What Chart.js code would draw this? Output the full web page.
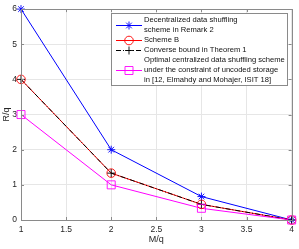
<!DOCTYPE html>
<html><head><meta charset="utf-8">
<script src="https://cdn.jsdelivr.net/npm/chart.js@4/dist/chart.umd.min.js"></script>
<style>html,body{margin:0;padding:0;background:#fff;overflow:hidden}</style>
</head><body>
<canvas id="c" width="299" height="249"></canvas>
<script>
const memoryRatio = [1, 2, 3, 4];
const decentralizedRemark2 = [6, 2, 0.6667, 0];
const schemeB = [4, 1.3333, 0.4444, 0];
const converseBound = [4, 1.3333, 0.4444, 0];
const centralizedUncoded = [3, 1, 0.3333, 0];
const xTicks = [1, 1.5, 2, 2.5, 3, 3.5, 4];
const yTicks = [0, 1, 2, 3, 4, 5, 6];
const xTitle = 'M/q';
const yTitle = 'R/q';
const legendLabels = [
  ['Decentralized data shuffling', 'scheme in Remark 2'],
  ['Scheme B'],
  ['Converse bound in Theorem 1'],
  ['Optimal centralized data shuffling scheme', 'under the constraint of uncoded storage', 'in [12, Elmahdy and Mohajer, ISIT 18]']
];

const FONT = 'Liberation Sans, Arial, Helvetica, sans-serif';
const AXIS = '#8a8a8a';
const TXT = '#262626';

const styles = [
  {color: '#0000ff', marker: 'star', r: 4, dash: []},
  {color: '#ff0000', marker: 'circle', r: 4.3, dash: []},
  {color: '#000000', marker: 'plus', r: 4, dash: [5, 2, 1, 2]},
  {color: '#ff00ff', marker: 'square', r: 4, dash: []}
];
const series = [decentralizedRemark2, schemeB, converseBound, centralizedUncoded];

function drawMarker(ctx, type, x, y, r, color) {
  ctx.save();
  ctx.strokeStyle = color; ctx.lineWidth = 0.9; ctx.setLineDash([]);
  ctx.beginPath();
  if (type === 'star') {
    ctx.moveTo(x - r, y); ctx.lineTo(x + r, y);
    ctx.moveTo(x, y - r); ctx.lineTo(x, y + r);
    const d = r * 0.7071;
    ctx.moveTo(x - d, y - d); ctx.lineTo(x + d, y + d);
    ctx.moveTo(x - d, y + d); ctx.lineTo(x + d, y - d);
  } else if (type === 'plus') {
    ctx.moveTo(x - r, y); ctx.lineTo(x + r, y);
    ctx.moveTo(x, y - r); ctx.lineTo(x, y + r);
  } else if (type === 'circle') {
    ctx.arc(x, y, r, 0, Math.PI * 2);
  } else if (type === 'square') {
    ctx.rect(x - r, y - r, 2 * r, 2 * r);
  }
  ctx.stroke();
  ctx.restore();
}

const markerPlugin = {
  id: 'markers',
  afterDatasetsDraw(chart) {
    const ctx = chart.ctx;
    chart.data.datasets.forEach((ds, i) => {
      const meta = chart.getDatasetMeta(i);
      const st = styles[i];
      meta.data.forEach(pt => drawMarker(ctx, st.marker, pt.x, pt.y, st.r, st.color));
    });
  },
  afterDraw(chart) {
    const ctx = chart.ctx;
    const a = chart.chartArea;
    const xs = chart.scales.x, ys = chart.scales.y;
    ctx.save();
    ctx.strokeStyle = AXIS; ctx.lineWidth = 1; ctx.setLineDash([]);
    ctx.beginPath();
    ctx.rect(Math.round(a.left) + 0.5, Math.round(a.top) + 0.5, Math.round(a.right - a.left), Math.round(a.bottom - a.top));
    const tl = 3;
    xTicks.forEach(v => {
      const px = Math.round(xs.getPixelForValue(v)) + 0.5;
      ctx.moveTo(px, a.bottom); ctx.lineTo(px, a.bottom - tl);
      ctx.moveTo(px, a.top); ctx.lineTo(px, a.top + tl);
    });
    yTicks.forEach(v => {
      const py = Math.round(ys.getPixelForValue(v)) + 0.5;
      ctx.moveTo(a.left, py); ctx.lineTo(a.left + tl, py);
      ctx.moveTo(a.right, py); ctx.lineTo(a.right - tl, py);
    });
    ctx.stroke();

    // legend
    const bx = 111.5, by = 13.5, bw = 176, bh = 72;
    ctx.fillStyle = '#fff';
    ctx.fillRect(bx, by, bw, bh);
    ctx.strokeRect(bx, by, bw, bh);
    ctx.font = '7.6px ' + FONT;
    ctx.fillStyle = '#111';
    ctx.textBaseline = 'middle';
    ctx.textAlign = 'left';
    const lh = 10.1;
    let line = 0;
    legendLabels.forEach((lines, i) => {
      const st = styles[i];
      const y0 = 19.5 + line * lh;
      const my = Math.round(y0 + (lines.length - 1) * lh / 2) + 0.5;
      ctx.save();
      ctx.strokeStyle = st.color; ctx.lineWidth = 1; ctx.setLineDash(st.dash);
      ctx.beginPath(); ctx.moveTo(116, my); ctx.lineTo(142, my); ctx.stroke();
      ctx.restore();
      drawMarker(ctx, st.marker, 129, my, st.r, st.color);
      lines.forEach((t, k) => ctx.fillText(t, 144, y0 + k * lh));
      line += lines.length;
    });
    ctx.restore();
  }
};

const datasets = series.map((vals, i) => ({
  label: legendLabels[i].join(' '),
  data: memoryRatio.map((m, k) => ({x: m, y: vals[k]})),
  borderColor: styles[i].color,
  borderWidth: 1,
  borderDash: styles[i].dash,
  pointRadius: 0,
  fill: false,
  tension: 0,
  clip: false,
  order: 4 - i
}));

new Chart(document.getElementById('c').getContext('2d'), {
  type: 'line',
  data: {datasets},
  options: {
    responsive: false, animation: false, devicePixelRatio: 1,
    layout: {padding: {top: 6, right: 7, left: 0, bottom: 0}},
    plugins: {legend: {display: false}, tooltip: {enabled: false}},
    scales: {
      x: {
        type: 'linear', min: 1, max: 4,
        afterBuildTicks: s => { s.ticks = xTicks.map(v => ({value: v})); },
        ticks: {font: {family: FONT, size: 8.5}, color: TXT, padding: 5, maxRotation: 0, autoSkip: false, callback: v => String(v)},
        grid: {color: '#e6e6e6', drawTicks: false},
        border: {display: false},
        title: {display: true, text: xTitle, font: {family: FONT, size: 9}, color: TXT, padding: {top: 0, bottom: 4}},
        afterFit: s => { s.height = 29; }
      },
      y: {
        type: 'linear', min: 0, max: 6,
        afterBuildTicks: s => { s.ticks = yTicks.map(v => ({value: v})); },
        ticks: {font: {family: FONT, size: 8.5}, color: TXT, padding: 4, autoSkip: false, callback: v => String(v)},
        grid: {color: '#e6e6e6', drawTicks: false},
        border: {display: false},
        title: {display: true, text: yTitle, font: {family: FONT, size: 9}, color: TXT, padding: {top: 1, bottom: 0}},
        afterFit: s => { s.width = 21; }
      }
    }
  },
  plugins: [markerPlugin]
});
</script>
</body></html>
